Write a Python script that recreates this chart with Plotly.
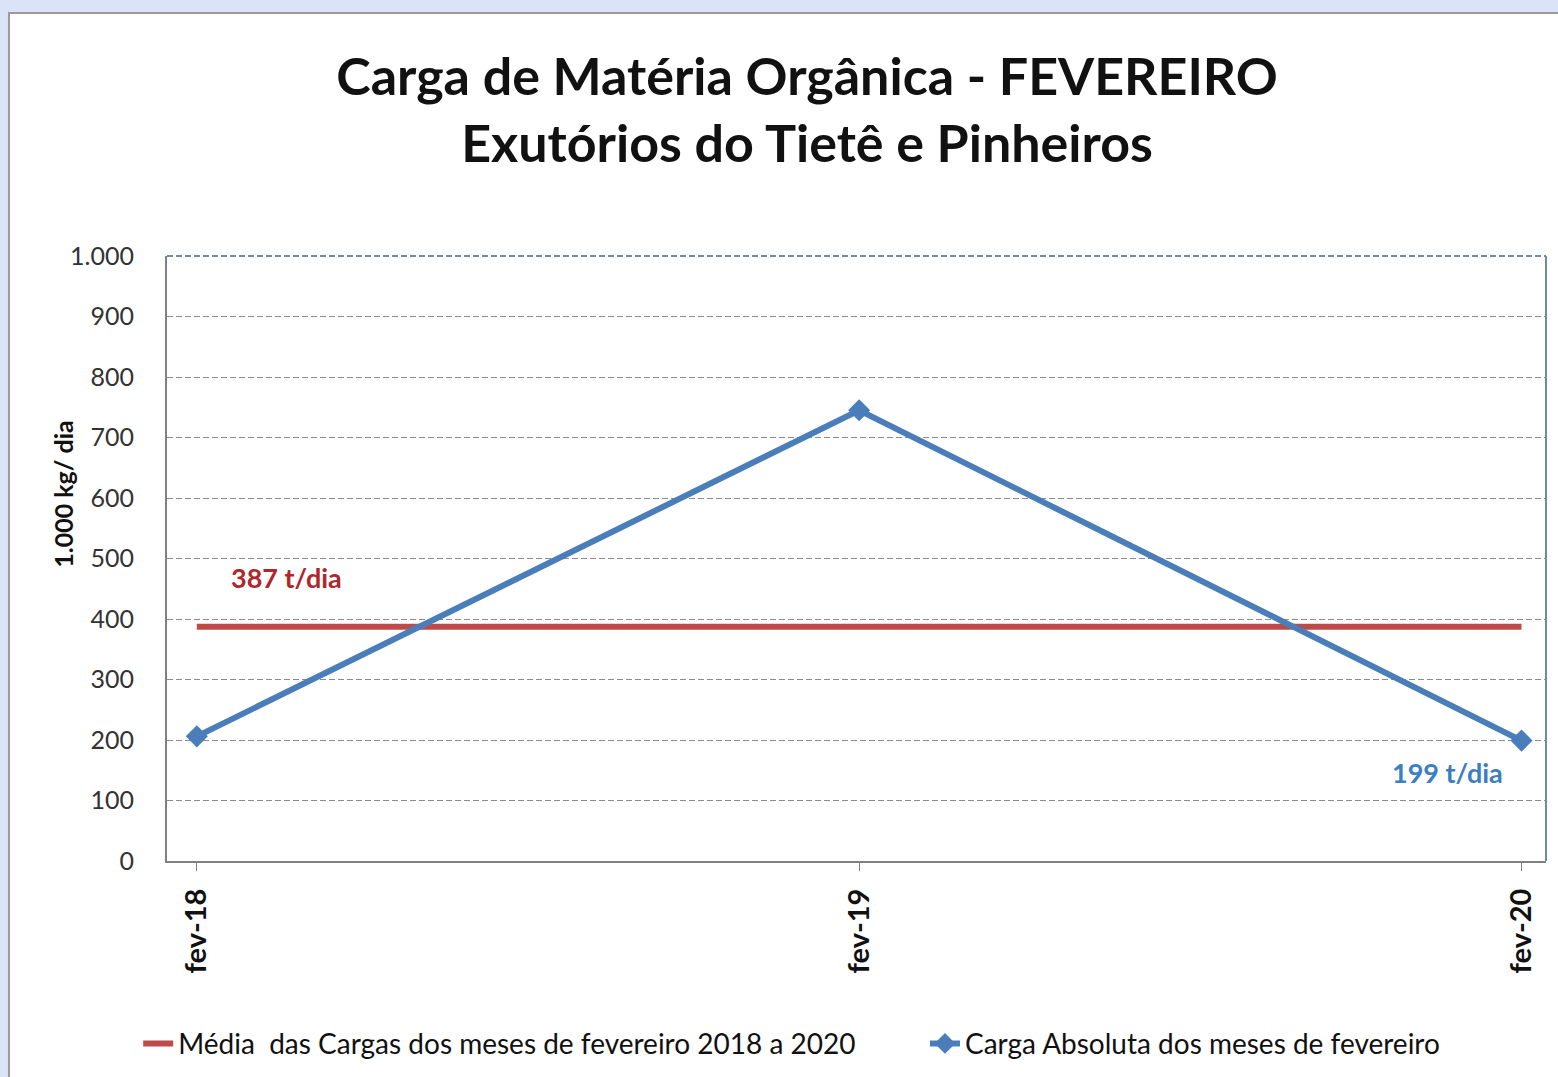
import plotly.graph_objects as go

categories = ["fev-18", "fev-19", "fev-20"]
carga_absoluta = [206, 745, 199]
media = [387, 387, 387]
y_ticks = [0, 100, 200, 300, 400, 500, 600, 700, 800, 900, 1000]

FONT = "Lato"
RED = "#be4b48"
BLUE = "#4a7ebb"
NB = "\u00a0"

xpos = list(range(len(categories)))

fig = go.Figure()
fig.add_trace(go.Scatter(
    x=xpos, y=media, mode="lines",
    name="Média  das Cargas dos meses de fevereiro 2018 a 2020" + NB * 9,
    line=dict(color=RED, width=6),
))
fig.add_trace(go.Scatter(
    x=xpos, y=carga_absoluta, mode="lines+markers",
    name="Carga Absoluta dos meses de fevereiro",
    line=dict(color=BLUE, width=6),
    marker=dict(symbol="diamond", size=17, color=BLUE),
))

# white chart area with grey border on light-blue page
fig.add_shape(type="rect", xref="paper", yref="paper",
              x0=-0.1146, x1=1.02, y0=-0.37, y1=1.4017,
              fillcolor="white", line=dict(color="#9a9a9a", width=2), layer="below")

fig.add_annotation(text="<b>387 t/dia</b>", x=0.136, y=469, xref="x", yref="y",
                   showarrow=False, font=dict(family=FONT, size=27, color="#b0262b"))
fig.add_annotation(text="<b>199 t/dia</b>", x=1.888, y=147, xref="x", yref="y",
                   showarrow=False, font=dict(family=FONT, size=27, color="#3a7fc1"))
fig.add_annotation(text="<b>1.000 kg/ dia</b>", x=-0.0754, y=0.607, xref="paper", yref="paper",
                   xanchor="center", yanchor="middle",
                   textangle=-90, showarrow=False,
                   font=dict(family=FONT, size=25, color="#111111"))

fig.update_layout(
    width=1558, height=1077,
    paper_bgcolor="#dbe3f8",
    plot_bgcolor="white",
    separators=",.",
    margin=dict(l=167, r=12, t=256, b=216, autoexpand=False),
    title=dict(
        text="<b>Carga de Matéria Orgânica - FEVEREIRO<br>Exutórios do Tietê e Pinheiros</b>",
        x=0.518, xanchor="center", y=0.912, yanchor="middle",
        font=dict(family=FONT, size=52, color="#111111"),
    ),
    xaxis=dict(
        range=[-0.045, 2.037],
        tickvals=xpos, ticktext=[f"<b>{c}</b>" for c in categories],
        tickangle=-90,
        tickfont=dict(family=FONT, size=29, color="#111111"),
        showgrid=False, zeroline=False,
        showline=True, linecolor="#808080", linewidth=2,
        ticks="outside", ticklen=8, tickcolor="#808080",
        ticklabelstandoff=6, automargin=False,
        mirror=False,
    ),
    yaxis=dict(
        range=[0, 1000],
        tickvals=y_ticks, tickformat=",d",
        tickfont=dict(family=FONT, size=25, color="#333333"),
        showgrid=True, gridcolor="#8c8c8c", griddash="6px,3px", gridwidth=1,
        zeroline=False,
        showline=True, linecolor="#808080", linewidth=2,
        ticks="", ticklabelstandoff=26, automargin=False,
    ),
    legend=dict(
        orientation="h", x=0.453, xanchor="center", y=-0.302, yanchor="middle",
        font=dict(family=FONT, size=28, color="#111111"),
        bgcolor="rgba(0,0,0,0)",
        traceorder="normal",
    ),
    showlegend=True,
)

# plot area border (top & right) in blue-grey
fig.add_shape(type="line", xref="paper", yref="paper", x0=0, x1=1, y0=1, y1=1,
              line=dict(color="#6f89a8", width=2, dash="6px,3px"))
fig.add_shape(type="line", xref="paper", yref="paper", x0=1, x1=1, y0=0, y1=1,
              line=dict(color="#6f89a8", width=2))

fig.write_html(
    "out.html",
    config={"displayModeBar": False},
    post_script=(
        "document.documentElement.style.margin='0';"
        "document.documentElement.style.overflow='hidden';"
        "document.body.style.margin='0';"
        "document.body.style.overflow='hidden';"
        "document.body.style.background='#dbe3f8';"
    ),
)
